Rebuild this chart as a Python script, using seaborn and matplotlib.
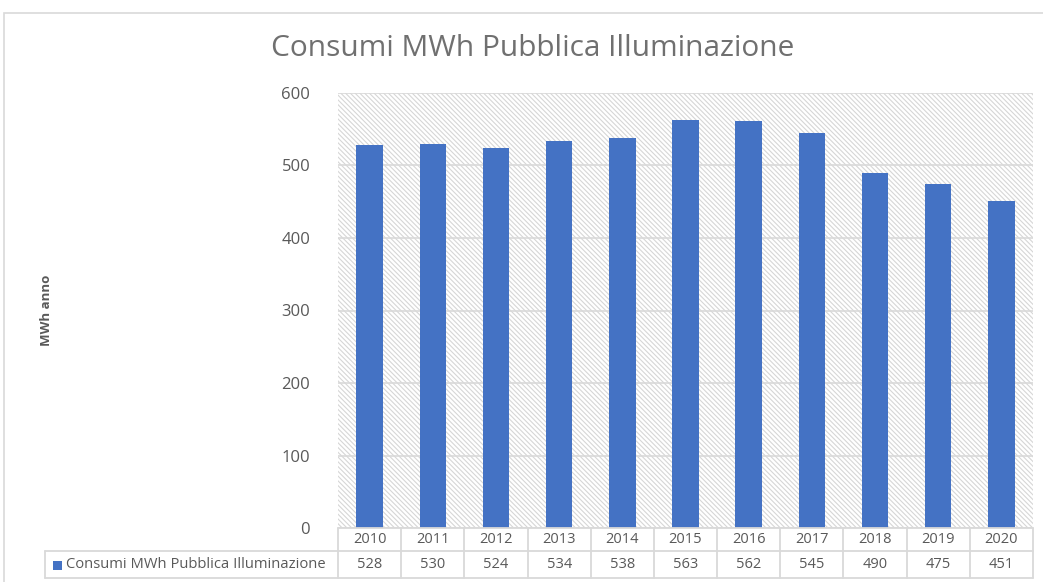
import numpy as np
import pandas as pd
import seaborn as sns
import matplotlib.pyplot as plt
from matplotlib.patches import Rectangle
from matplotlib.lines import Line2D
import matplotlib.transforms as mtrans

years = ["2010", "2011", "2012", "2013", "2014", "2015", "2016", "2017", "2018", "2019", "2020"]
consumi = [528, 530, 524, 534, 538, 563, 562, 545, 490, 475, 451]
series_name = "Consumi MWh Pubblica Illuminazione"
chart_title = "Consumi MWh Pubblica Illuminazione"
y_label = "MWh anno"
y_ticks = [0, 100, 200, 300, 400, 500, 600]

BAR = "#4472c4"
GRID = "#d9d9d9"
TXT = "#595959"

sns.set_theme(style="white")
plt.rcParams["font.family"] = ["Open Sans", "DejaVu Sans"]
plt.rcParams["hatch.color"] = "#d6d6d6"
plt.rcParams["hatch.linewidth"] = 0.8

W, H = 1043, 582
fig = plt.figure(figsize=(W / 100, H / 100), dpi=100)
fig.patch.set_facecolor("white")

# outer chart frame
fig.patches.append(Rectangle((4 / W, -0.1), 1.2, 1 - 13 / H + 0.1, transform=fig.transFigure,
                             fill=False, edgecolor=GRID, lw=1.2, zorder=0))

left, right, top, bottom = 338, 1033, 93, 528
ax = fig.add_axes([left / W, 1 - bottom / H, (right - left) / W, (bottom - top) / H])

df = pd.DataFrame({"anno": years, "MWh": consumi})
sns.barplot(data=df, x="anno", y="MWh", color=BAR, width=0.42, saturation=1,
            linewidth=0, ax=ax, zorder=3)

ax.add_patch(Rectangle((0, 0), 1, 1, transform=ax.transAxes, facecolor="white",
                       hatch="\\" * 7, edgecolor="#d6d6d6", lw=0, zorder=0))
ax.set_xlim(-0.5, len(years) - 0.5)
ax.set_ylim(0, 600)
ax.set_yticks(y_ticks)
ax.yaxis.grid(True, color=GRID, lw=1.2, zorder=1)
ax.set_axisbelow(True)
for s in ax.spines.values():
    s.set_visible(False)
ax.set_xticks([])
ax.set_xlabel("")
ax.set_ylabel("")
ax.tick_params(axis="y", length=0, pad=20, labelsize=12, labelcolor=TXT)

fig.text(47 / W, 1 - 310 / H, y_label, rotation=90, ha="center", va="center",
         fontsize=9.5, fontweight="bold", color=TXT)
fig.text(533 / W, 1 - 48 / H, chart_title, ha="center", va="center",
         fontsize=21.5, color="#707070")

# data table below the plot
blend = mtrans.blended_transform_factory(ax.transData, fig.transFigure)
row1_top, row1_bot, row2_bot = 1 - 528 / H, 1 - 551 / H, 1 - 578 / H
lkw = dict(color=GRID, lw=1.3, clip_on=False)
for i in range(len(years) + 1):
    fig.add_artist(Line2D([i - 0.5, i - 0.5], [row1_top, row2_bot], transform=blend, **lkw))
fig.add_artist(Line2D([-0.5, len(years) - 0.5], [row1_top, row1_top], transform=blend, **lkw))
fig.add_artist(Line2D([45 / W, right / W], [row1_bot, row1_bot], transform=fig.transFigure, **lkw))
fig.add_artist(Line2D([45 / W, right / W], [row2_bot, row2_bot], transform=fig.transFigure, **lkw))
fig.add_artist(Line2D([45 / W, 45 / W], [row1_bot, row2_bot], transform=fig.transFigure, **lkw))
for i, (yr, v) in enumerate(zip(years, consumi)):
    fig.text(i, (row1_top + row1_bot) / 2, yr, transform=blend, ha="center", va="center",
             fontsize=10.5, color=TXT)
    fig.text(i, (row1_bot + row2_bot) / 2, str(v), transform=blend, ha="center", va="center",
             fontsize=10.5, color=TXT)
fig.patches.append(Rectangle((53 / W, 1 - 570 / H), 9 / W, 9 / H, transform=fig.transFigure,
                             facecolor=BAR, edgecolor="none"))
fig.text(66 / W, (row1_bot + row2_bot) / 2, series_name, ha="left", va="center",
         fontsize=10.6, color=TXT)

fig.savefig("out.png", dpi=100)
